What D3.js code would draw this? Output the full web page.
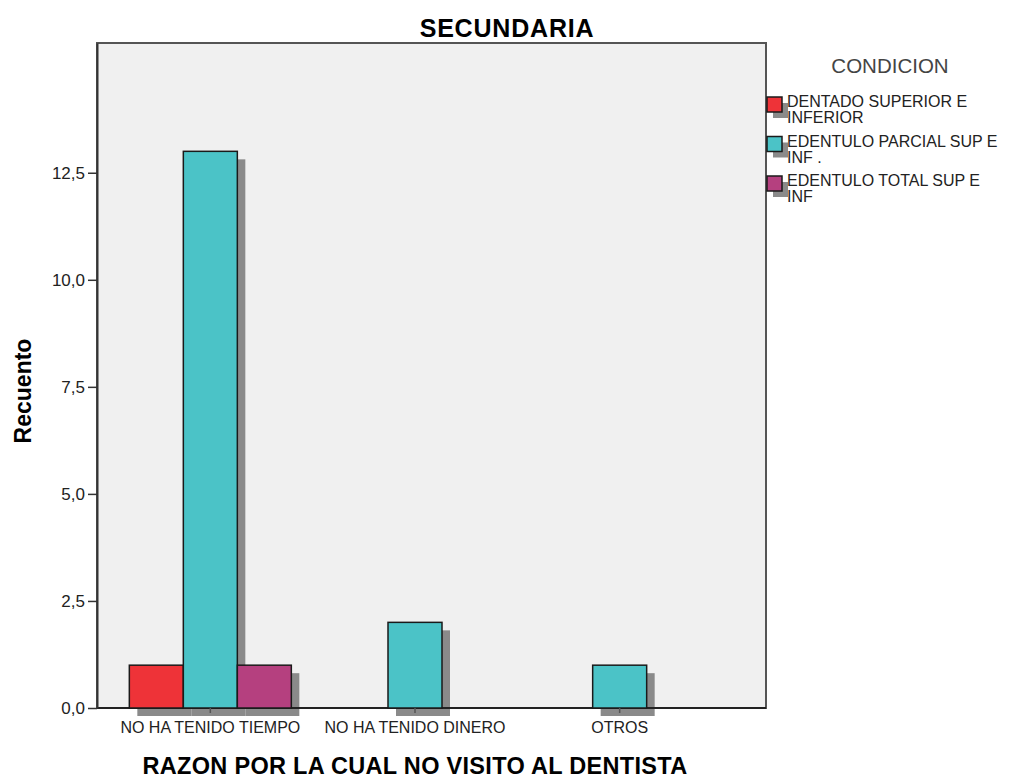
<!DOCTYPE html>
<html>
<head>
<meta charset="utf-8">
<script src="https://cdn.jsdelivr.net/npm/d3@7"></script>
<style>
  body { margin: 0; background: #fff; }
  text { font-family: Arial, "Liberation Sans", sans-serif; }
</style>
</head>
<body>
<script>
// data
const categories = ["NO HA TENIDO TIEMPO", "NO HA TENIDO DINERO", "OTROS"];
const seriesNames = [
  ["DENTADO SUPERIOR E", "INFERIOR"],
  ["EDENTULO PARCIAL SUP E", "INF ."],
  ["EDENTULO TOTAL SUP E", "INF"]
];
const seriesColors = ["#ee3338", "#4bc3c7", "#b5407f"];
const dentado = [1, 0, 0];
const parcial = [13, 2, 1];
const total = [1, 0, 0];
const yTicks = [0, 2.5, 5, 7.5, 10, 12.5];

const width = 1011, height = 780;
const plot = { left: 97, top: 43, right: 766, bottom: 708 };

const svg = d3.select('body').append('svg')
  .attr('width', width)
  .attr('height', height);

const y = d3.scaleLinear().domain([0, 15.53]).range([plot.bottom, plot.top]);
const x = d3.scaleBand().domain(categories).range([108, 722]);
const barW = 54;

// plot background + frame
svg.append('rect')
  .attr('x', plot.left).attr('y', plot.top)
  .attr('width', plot.right - plot.left).attr('height', plot.bottom - plot.top)
  .attr('fill', '#f0f0f0')
  .attr('stroke', '#555').attr('stroke-width', 2);

// build bar list: zero counts are dropped, the rest centred on the category
let bars = [];
categories.forEach((cat, i) => {
  let vals = [dentado[i], parcial[i], total[i]];
  let present = vals.map((v, s) => ({ cat: cat, s: s, v: v })).filter(d => d.v > 0);
  let start = x(cat) + x.bandwidth() / 2 - present.length * barW / 2;
  present.forEach((d, k) => { d.x = start + k * barW; bars.push(d); });
});

// shadows first
svg.selectAll('.shadow').data(bars).enter().append('rect')
  .attr('class', 'shadow')
  .attr('x', d => d.x + 8)
  .attr('y', d => y(d.v) + 8)
  .attr('width', barW)
  .attr('height', d => y(0) - y(d.v))
  .attr('fill', '#8a8a8a');

// x axis line
svg.append('line')
  .attr('x1', plot.left).attr('x2', plot.right)
  .attr('y1', plot.bottom).attr('y2', plot.bottom)
  .attr('stroke', '#222').attr('stroke-width', 2);

svg.selectAll('.bar').data(bars).enter().append('rect')
  .attr('class', 'bar')
  .attr('x', d => d.x)
  .attr('y', d => y(d.v))
  .attr('width', barW)
  .attr('height', d => y(0) - y(d.v))
  .attr('fill', d => seriesColors[d.s])
  .attr('stroke', '#1a1a1a').attr('stroke-width', 1.5);

// y axis
const yAxis = svg.append('g')
  .attr('transform', `translate(${plot.left},0)`)
  .call(d3.axisLeft(y).tickValues(yTicks).tickSize(9).tickSizeOuter(0).tickPadding(3)
    .tickFormat(d => d3.format('.1f')(d).replace('.', ',')));
yAxis.select('.domain').attr('stroke', '#333').attr('stroke-width', 2);
yAxis.selectAll('.tick line').attr('stroke', '#333').attr('stroke-width', 1.5);
yAxis.selectAll('.tick text').attr('font-size', 17).attr('fill', '#222')
  .attr('font-family', 'Arial, "Liberation Sans", sans-serif');

// x axis ticks + labels
const xAxis = svg.append('g')
  .attr('transform', `translate(0,${plot.bottom})`)
  .call(d3.axisBottom(x).tickSize(5).tickPadding(9));
xAxis.select('.domain').remove();
xAxis.selectAll('.tick line').attr('stroke', '#555').attr('stroke-width', 1.5);
xAxis.selectAll('.tick text').attr('font-size', 16).attr('fill', '#222')
  .attr('font-family', 'Arial, "Liberation Sans", sans-serif');

// titles
svg.append('text')
  .attr('x', 507).attr('y', 37)
  .attr('text-anchor', 'middle')
  .attr('font-size', 25).attr('font-weight', 'bold')
  .attr('letter-spacing', 0.8)
  .text('SECUNDARIA');

svg.append('text')
  .attr('x', 415).attr('y', 774)
  .attr('text-anchor', 'middle')
  .attr('font-size', 23.5).attr('font-weight', 'bold')
  .attr('letter-spacing', 0.3)
  .text('RAZON POR LA CUAL NO VISITO AL DENTISTA');

svg.append('text')
  .attr('transform', 'translate(31,391) rotate(-90)')
  .attr('text-anchor', 'middle')
  .attr('font-size', 23).attr('font-weight', 'bold')
  .text('Recuento');

// legend
svg.append('text')
  .attr('x', 890).attr('y', 73)
  .attr('text-anchor', 'middle')
  .attr('font-size', 20.5).attr('fill', '#444')
  .text('CONDICION');

const legend = svg.selectAll('.legend').data(seriesNames).enter().append('g')
  .attr('class', 'legend')
  .attr('transform', (d, i) => `translate(767,${97 + i * 39.5})`);

legend.append('rect')
  .attr('x', 6).attr('y', 6).attr('width', 15).attr('height', 15)
  .attr('fill', '#8a8a8a');
legend.append('rect')
  .attr('width', 15).attr('height', 15)
  .attr('fill', (d, i) => seriesColors[i])
  .attr('stroke', '#1a1a1a').attr('stroke-width', 1.5);
legend.append('text')
  .attr('x', 20).attr('y', 10)
  .attr('font-size', 16).attr('fill', '#222')
  .text(d => d[0]);
legend.append('text')
  .attr('x', 20).attr('y', 26)
  .attr('font-size', 16).attr('fill', '#222')
  .text(d => d[1]);
</script>
</body>
</html>
